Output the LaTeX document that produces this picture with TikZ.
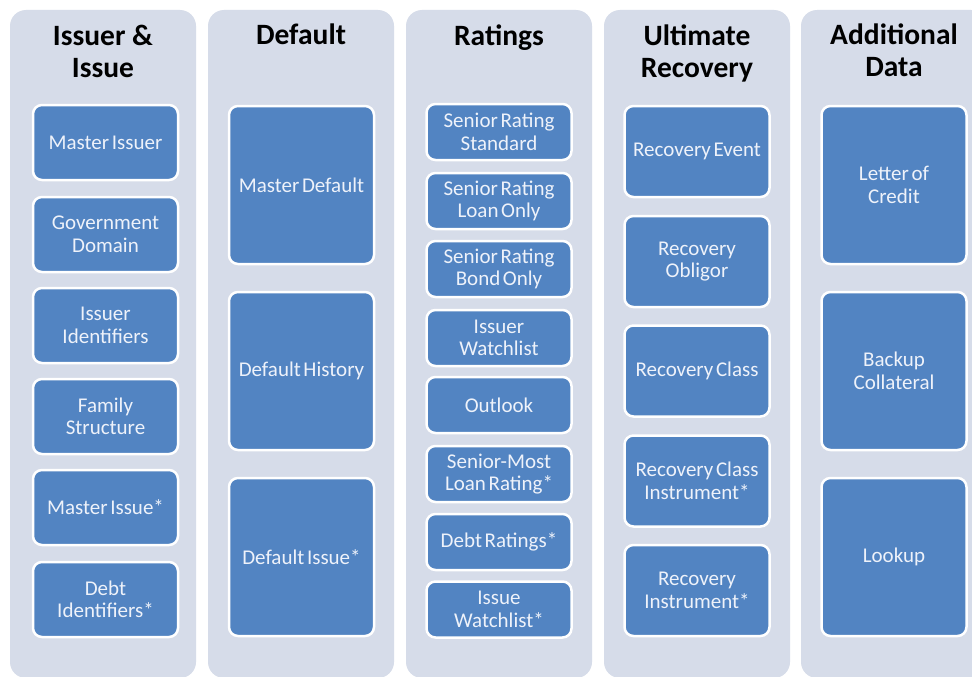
\documentclass[tikz,border=0pt]{standalone}
\usepackage{fontspec}
\setmainfont{Carlito}
\newfontfamily\boxfont[WordSpace=0.55]{Carlito}
\definecolor{colbg}{RGB}{214,220,233}
\definecolor{boxblue}{RGB}{82,132,194}
\definecolor{boxtext}{RGB}{238,242,250}
\begin{document}
\begin{tikzpicture}[x=1pt,y=-1pt,
  colbox/.style={fill=colbg, rounded corners=16pt, minimum width=186pt, minimum height=668pt, inner sep=0pt},
  coltitle/.style={anchor=north, align=center, inner sep=0pt, font=\fontsize{29.5}{32}\selectfont\bfseries, text=black},
  item/.style={fill=boxblue, draw=white, line width=2.5pt, rounded corners=9pt, minimum width=145pt,
    text width=140pt, align=flush center, inner sep=0pt, text=boxtext, font=\boxfont\fontsize{21}{22.5}\selectfont},
  itemS/.style={item, minimum height=75pt},
  itemL/.style={item, minimum height=158pt},
  itemR/.style={item, minimum height=56pt},
  itemM/.style={item, minimum height=91pt}]
\useasboundingbox (0,0) rectangle (972,677);
\clip (0,0) rectangle (972,677);
\fill[white] (0,0) rectangle (972,677);
% columns
\node[colbox] (c1) at (103,344) {};
\node[colbox] (c2) at (301,344) {};
\node[colbox] (c3) at (499,344) {};
\node[colbox] (c4) at (697,344) {};
\node[colbox] (c5) at (894,344) {};
% titles
\node[coltitle] (t1) at (103,25) {Issuer \&\\Issue};
\node[coltitle] (t2) at (301,24) {Default};
\node[coltitle] (t3) at (499,25) {Ratings};
\node[coltitle] (t4) at (697,25) {Ultimate\\Recovery};
\node[coltitle] (t5) at (894,24) {Additional\\Data};
% column 1
\node[itemS] (a1) at (105.5,142.5) {Master Issuer};
\node[itemS] (a2) at (105.5,234.5) {Government\\Domain};
\node[itemS] (a3) at (105.5,325.5) {Issuer\\Identifiers};
\node[itemS] (a4) at (105.5,416.5) {Family\\Structure};
\node[itemS] (a5) at (105.5,507.5) {Master Issue*};
\node[itemS] (a6) at (105.5,599.5) {Debt\\Identifiers*};
% column 2
\node[itemL] (b1) at (301.5,185) {Master Default};
\node[itemL] (b2) at (301.5,371) {Default History};
\node[itemL] (b3) at (301.5,557) {Default Issue*};
% column 3
\node[itemR] (r1) at (499,132) {Senior Rating\\Standard};
\node[itemR] (r2) at (499,201) {Senior Rating\\Loan Only};
\node[itemR] (r3) at (499,269) {Senior Rating\\Bond Only};
\node[itemR] (r4) at (499,338) {Issuer\\Watchlist};
\node[itemR] (r5) at (499,405) {Outlook};
\node[itemR] (r6) at (499,474) {Senior-Most\\Loan Rating*};
\node[itemR] (r7) at (499,542) {Debt Ratings*};
\node[itemR] (r8) at (499,609.5) {Issue\\Watchlist*};
% column 4
\node[itemM] (u1) at (697,151.5) {Recovery Event};
\node[itemM] (u2) at (697,261.5) {Recovery\\Obligor};
\node[itemM] (u3) at (697,371) {Recovery Class};
\node[itemM] (u4) at (697,481) {Recovery Class\\Instrument*};
\node[itemM] (u5) at (697,590.5) {Recovery\\Instrument*};
% column 5
\node[itemL] (d1) at (894,185) {Letter of\\Credit};
\node[itemL] (d2) at (894,371) {Backup\\Collateral};
\node[itemL] (d3) at (894,557) {Lookup};
\end{tikzpicture}
\end{document}
